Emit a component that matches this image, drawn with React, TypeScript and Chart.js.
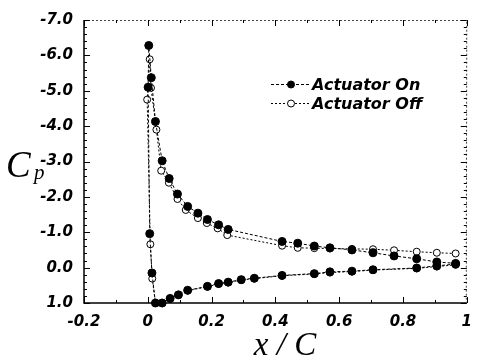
import React, { useEffect, useRef } from 'react';
import { Chart, registerables } from 'chart.js';

Chart.register(...registerables);

// Actuator On: upper surface (TE -> LE), then lower surface (LE -> TE)
const onX = [0.965, 0.906, 0.843, 0.772, 0.706, 0.640, 0.571, 0.522, 0.470, 0.421, 0.252, 0.222, 0.187, 0.157, 0.125, 0.093, 0.067, 0.045, 0.024, 0.011, 0.003, 0.001,
  0.006, 0.013, 0.024, 0.045, 0.070, 0.096, 0.125, 0.187, 0.222, 0.252, 0.293, 0.334, 0.421, 0.522, 0.571, 0.640, 0.706, 0.843, 0.906, 0.965];
const onCp = [-0.12, -0.16, -0.25, -0.33, -0.42, -0.50, -0.56, -0.61, -0.69, -0.74, -1.08, -1.21, -1.36, -1.54, -1.73, -2.08, -2.52, -3.02, -4.13, -5.37, -6.28, -5.10,
  -0.96, 0.15, 1.00, 1.00, 0.87, 0.77, 0.64, 0.53, 0.45, 0.41, 0.34, 0.30, 0.22, 0.17, 0.12, 0.10, 0.06, 0.01, -0.05, -0.10];

// Actuator Off
const offX = [0.965, 0.906, 0.843, 0.772, 0.706, 0.640, 0.571, 0.522, 0.470, 0.421, 0.249, 0.219, 0.185, 0.157, 0.119, 0.093, 0.066, 0.042, 0.027, 0.010, 0.006, -0.002,
  0.008, 0.014, 0.024, 0.045, 0.070, 0.096, 0.125, 0.187, 0.222, 0.252, 0.293, 0.334, 0.421, 0.522, 0.571, 0.640, 0.706, 0.843, 0.906, 0.965];
const offCp = [-0.40, -0.42, -0.45, -0.49, -0.52, -0.53, -0.54, -0.55, -0.56, -0.62, -0.92, -1.11, -1.26, -1.40, -1.63, -1.94, -2.40, -2.74, -3.90, -5.08, -5.89, -4.75,
  -0.66, 0.31, 1.00, 1.00, 0.88, 0.77, 0.65, 0.54, 0.46, 0.42, 0.35, 0.31, 0.23, 0.18, 0.14, 0.11, 0.07, 0.02, -0.03, -0.08];

const seriesNames = ['Actuator On', 'Actuator Off'];
const xMin = -0.2, xMax = 1, xStep = 0.2, xMinorStep = 0.1;
const yMin = -7, yMax = 1, yStep = 1, yMinorStep = 0.2;
const xTitle = 'x / C';
const yTitleMain = 'C';
const yTitleSub = 'p';

export default function App() {
  const ref = useRef<HTMLCanvasElement>(null);

  useEffect(() => {
    const canvas = ref.current!;
    const decor = {
      id: 'decor',
      afterDraw(chart: any) {
        const ctx = chart.ctx;
        const { left, right, top, bottom } = chart.chartArea;
        const xs = chart.scales.x, ys = chart.scales.y;
        ctx.save();
        // frame
        ctx.strokeStyle = '#000';
        ctx.lineWidth = 1.5;
        ctx.beginPath();
        ctx.moveTo(left, top); ctx.lineTo(left, bottom); ctx.lineTo(right, bottom);
        ctx.stroke();
        ctx.lineWidth = 1;
        ctx.strokeStyle = '#444';
        ctx.setLineDash([2, 2]);
        ctx.beginPath();
        ctx.moveTo(left, top + 0.5); ctx.lineTo(right, top + 0.5); ctx.lineTo(right - 0.5, bottom);
        ctx.stroke();
        ctx.setLineDash([]);
        ctx.strokeStyle = '#000';
        // ticks
        ctx.lineWidth = 1;
        ctx.beginPath();
        const nY = Math.round((yMax - yMin) / yMinorStep);
        for (let i = 0; i <= nY; i++) {
          const v = yMin + i * yMinorStep;
          const major = Math.abs(v - Math.round(v / yStep) * yStep) < 1e-6;
          const len = major ? 6 : 3;
          const py = Math.round(ys.getPixelForValue(v)) + 0.5;
          ctx.moveTo(left, py); ctx.lineTo(left + len, py);
          ctx.moveTo(right, py); ctx.lineTo(right - len, py);
        }
        const nX = Math.round((xMax - xMin) / xMinorStep);
        for (let i = 0; i <= nX; i++) {
          const v = xMin + i * xMinorStep;
          const major = Math.abs(v / xStep - Math.round(v / xStep)) < 1e-6;
          const len = major ? 6 : 3;
          const px = Math.round(xs.getPixelForValue(v)) + 0.5;
          ctx.moveTo(px, bottom); ctx.lineTo(px, bottom - len);
          ctx.moveTo(px, top); ctx.lineTo(px, top + len);
        }
        ctx.stroke();

        // legend
        const legendRows = [
          { y: 84, fill: '#000', dash: [3, 2] },
          { y: 103, fill: '#fff', dash: [2, 2] },
        ];
        legendRows.forEach((r, i) => {
          ctx.strokeStyle = '#000';
          ctx.lineWidth = 1;
          ctx.setLineDash(r.dash);
          ctx.beginPath();
          ctx.moveTo(271, r.y + 0.5); ctx.lineTo(309, r.y + 0.5);
          ctx.stroke();
          ctx.setLineDash([]);
          ctx.beginPath();
          ctx.arc(291, r.y + 0.5, 3.5, 0, Math.PI * 2);
          ctx.fillStyle = r.fill;
          ctx.fill();
          ctx.stroke();
          ctx.fillStyle = '#000';
          ctx.font = 'italic bold 16px "DejaVu Sans"';
          ctx.textBaseline = 'middle';
          ctx.textAlign = 'left';
          ctx.fillText(seriesNames[i], 312, r.y + 2);
        });

        // axis titles
        ctx.fillStyle = '#000';
        ctx.textBaseline = 'alphabetic';
        ctx.textAlign = 'left';
        ctx.font = 'italic 37px "Liberation Serif"';
        ctx.fillText(yTitleMain, 6, 177);
        ctx.font = 'italic 21px "Liberation Serif"';
        ctx.fillText(yTitleSub, 34, 179);
        ctx.font = 'italic 33px "Liberation Serif"';
        ctx.textAlign = 'center';
        ctx.fillText(xTitle, 285, 355);
        ctx.restore();
      },
    };

    const tickFont = { family: 'DejaVu Sans', size: 15, style: 'italic' as const, weight: 'bold' as const };

    const chart = new Chart(canvas, {
      type: 'scatter',
      data: {
        datasets: [
          {
            label: seriesNames[0],
            data: onX.map((x, i) => ({ x, y: onCp[i] })),
            showLine: true,
            borderColor: '#000',
            borderWidth: 1,
            borderDash: [3, 2],
            pointRadius: 4,
            pointBackgroundColor: '#000',
            pointBorderColor: '#000',
            pointBorderWidth: 1,
            clip: false as any,
          },
          {
            label: seriesNames[1],
            data: offX.map((x, i) => ({ x, y: offCp[i] })),
            showLine: true,
            borderColor: '#000',
            borderWidth: 1,
            borderDash: [2, 2],
            pointRadius: 3.5,
            pointBackgroundColor: '#fff',
            pointBorderColor: '#000',
            pointBorderWidth: 1,
            clip: false as any,
          },
        ],
      },
      options: {
        responsive: false,
        devicePixelRatio: 1,
        animation: false,
        layout: { padding: { left: 0, right: 7, top: 15, bottom: 0 } },
        plugins: { legend: { display: false }, tooltip: { enabled: false } },
        scales: {
          x: {
            type: 'linear',
            min: xMin,
            max: xMax,
            grid: { display: false, drawTicks: false },
            border: { display: false },
            ticks: {
              stepSize: xStep,
              color: '#000',
              font: tickFont,
              padding: 10,
              maxRotation: 0,
              callback: (v: any) => String(Math.round(Number(v) * 10) / 10),
            },
            afterFit: (s: any) => { s.height = 58; },
          },
          y: {
            type: 'linear',
            reverse: true,
            min: yMin,
            max: yMax,
            grid: { display: false, drawTicks: false },
            border: { display: false },
            ticks: {
              stepSize: yStep,
              color: '#000',
              font: tickFont,
              padding: 11,
              callback: (v: any) => (Math.round(Number(v) * 10) / 10).toFixed(1),
            },
            afterFit: (s: any) => { s.width = 84; },
          },
        },
      },
      plugins: [decor],
    });
    return () => chart.destroy();
  }, []);

  return (
    <div style={{ position: 'fixed', left: 0, top: 0, width: 482, height: 361, background: '#fff' }}>
      <canvas ref={ref} width={482} height={361} style={{ display: 'block' }} />
    </div>
  );
}
